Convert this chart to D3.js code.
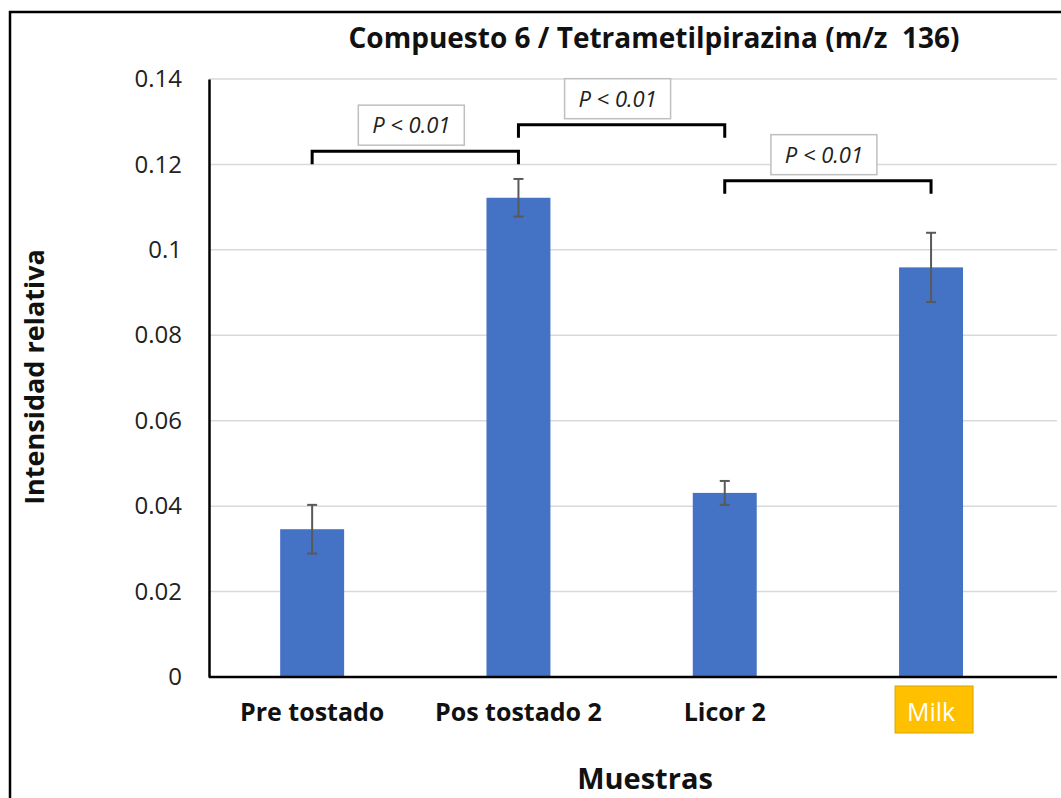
<!DOCTYPE html>
<html>
<head>
<meta charset="utf-8">
<script src="https://cdn.jsdelivr.net/npm/d3@7"></script>
<style>
  body { margin: 0; background: #fff; }
  svg text { font-family: "Open Sans", sans-serif; }
</style>
</head>
<body>
<div id="chart"></div>
<script>
// data
const categories = ["Pre tostado", "Pos tostado 2", "Licor 2", "Milk"];
const values     = [0.0346, 0.1122, 0.0431, 0.0959];
const errors     = [0.0057, 0.0044, 0.0028, 0.0081];
const yTicks     = [0, 0.02, 0.04, 0.06, 0.08, 0.1, 0.12, 0.14];
// significance brackets: from category, to category, height, label
const brackets = [
  {from: "Pre tostado", to: "Pos tostado 2", y: 0.1231, label: "P < 0.01"},
  {from: "Pos tostado 2", to: "Licor 2", y: 0.1293, label: "P < 0.01"},
  {from: "Licor 2", to: "Milk", y: 0.1162, label: "P < 0.01"}
];

const W = 1061, H = 798;
const mLeft = 209, mRight = 1057, mTop = 79, mBottom = 677;

const svg = d3.select("#chart").append("svg")
    .attr("width", W)
    .attr("height", H);

// outer frame
svg.append("path")
    .attr("d", `M10,${H + 5}V12H${W + 5}`)
    .attr("fill", "none")
    .attr("stroke", "#000")
    .attr("stroke-width", 2.5);

const x = d3.scaleBand()
    .domain(categories)
    .range([mLeft, mLeft + 4 * 206.3])
    .paddingInner(0.69)
    .paddingOuter(0.345);

const y = d3.scaleLinear()
    .domain([0, 0.14])
    .range([mBottom, mTop]);

// gridlines
svg.append("g")
    .selectAll("line")
    .data(yTicks.slice(1))
    .enter()
    .append("line")
    .attr("x1", mLeft)
    .attr("x2", mRight)
    .attr("y1", d => y(d))
    .attr("y2", d => y(d))
    .attr("stroke", "#d9d9d9")
    .attr("stroke-width", 1.5);

// y axis
const yAxis = svg.append("g")
    .attr("transform", `translate(${mLeft},0)`)
    .call(d3.axisLeft(y).tickValues(yTicks).tickSize(0).tickPadding(27)
        .tickFormat(d => d === 0 ? "0" : String(+d.toFixed(2))));
yAxis.select(".domain").attr("stroke", "#000").attr("stroke-width", 2.5);
yAxis.selectAll("text")
    .attr("font-size", 24)
    .attr("fill", "#222")
    .style("font-family", "'Open Sans', sans-serif");

// bars
svg.selectAll(".bar")
    .data(categories)
    .enter()
    .append("rect")
    .attr("class", "bar")
    .attr("x", d => x(d))
    .attr("width", x.bandwidth())
    .attr("y", (d, i) => y(values[i]))
    .attr("height", (d, i) => y(0) - y(values[i]))
    .attr("fill", "#4472C4");

// x axis
const xAxis = svg.append("g")
    .attr("transform", `translate(0,${mBottom})`)
    .call(d3.axisBottom(x).tickSize(0).tickPadding(26));
xAxis.select(".domain").attr("d", `M${mLeft},0H${mRight}`)
    .attr("stroke", "#000").attr("stroke-width", 2.5);
xAxis.selectAll(".tick text")
    .attr("font-size", 25)
    .attr("font-weight", "bold")
    .attr("fill", "#111")
    .style("font-family", "'Open Sans', sans-serif");

// milk label highlighted
const milkTick = xAxis.selectAll(".tick").filter(d => d === "Milk");
milkTick.select("text").attr("font-weight", "normal").attr("fill", "#fff");
milkTick.insert("rect", "text")
    .attr("x", -36)
    .attr("y", 9)
    .attr("width", 78)
    .attr("height", 47)
    .attr("fill", "#FFC000")
    .attr("stroke", "#d9a400")
    .attr("stroke-width", 1);

// error bars
const eb = svg.append("g");
categories.forEach((c, i) => {
  const cx = x(c) + x.bandwidth() / 2;
  const y1 = y(values[i] + errors[i]), y2 = y(values[i] - errors[i]);
  eb.append("line").attr("x1", cx).attr("x2", cx).attr("y1", y1).attr("y2", y2);
  eb.append("line").attr("x1", cx - 5).attr("x2", cx + 5).attr("y1", y1).attr("y2", y1);
  eb.append("line").attr("x1", cx - 5).attr("x2", cx + 5).attr("y1", y2).attr("y2", y2);
});
eb.selectAll("line").attr("stroke", "#595959").attr("stroke-width", 2);

// brackets
const tick = 13;
brackets.forEach(b => {
  const x1 = x(b.from) + x.bandwidth() / 2;
  const x2 = x(b.to) + x.bandwidth() / 2;
  const by = y(b.y);
  svg.append("path")
      .attr("d", `M${x1},${by + tick}V${by}H${x2}V${by + tick}`)
      .attr("fill", "none")
      .attr("stroke", "#000")
      .attr("stroke-width", 3);
  const mx = (x1 + x2) / 2 - 4;
  svg.append("rect")
      .attr("x", mx - 53)
      .attr("y", by - 46)
      .attr("width", 106)
      .attr("height", 40)
      .attr("fill", "#fff")
      .attr("stroke", "#bfbfbf")
      .attr("stroke-width", 1.5);
  svg.append("text")
      .attr("x", mx)
      .attr("y", by - 18)
      .attr("text-anchor", "middle")
      .attr("font-size", 22)
      .attr("font-style", "italic")
      .attr("fill", "#222")
      .text(b.label);
});

// title
svg.append("text")
    .attr("x", 654)
    .attr("y", 48)
    .attr("text-anchor", "middle")
    .attr("font-size", 28)
    .attr("font-weight", "bold")
    .attr("fill", "#111")
    .style("white-space", "pre")
    .text("Compuesto 6 / Tetrametilpirazina (m/z  136)");

// axis titles
svg.append("text")
    .attr("transform", "translate(44,377) rotate(-90)")
    .attr("text-anchor", "middle")
    .attr("font-size", 27)
    .attr("font-weight", "bold")
    .attr("fill", "#111")
    .text("Intensidad relativa");

svg.append("text")
    .attr("x", 645)
    .attr("y", 789)
    .attr("text-anchor", "middle")
    .attr("font-size", 29)
    .attr("font-weight", "bold")
    .attr("fill", "#111")
    .text("Muestras");
</script>
</body>
</html>
